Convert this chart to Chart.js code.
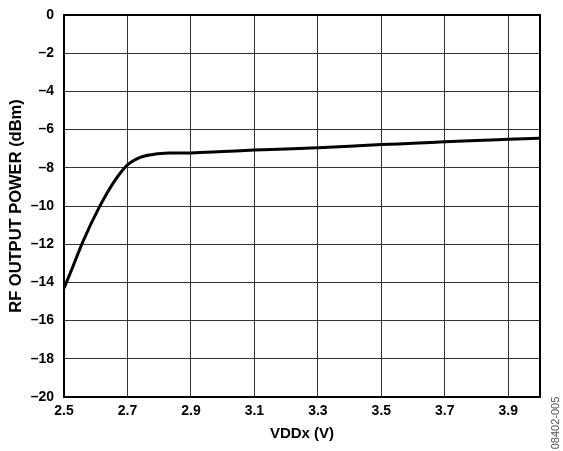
<!DOCTYPE html>
<html>
<head>
<meta charset="utf-8">
<script src="https://cdn.jsdelivr.net/npm/chart.js@4/dist/chart.umd.min.js"></script>
<style>
html,body{margin:0;padding:0;background:#fff;}
#wrap{width:563px;height:451px;position:relative;}
</style>
</head>
<body>
<div id="wrap"><canvas id="c" width="563" height="451"></canvas></div>
<script>
const vddx = [2.50, 2.52, 2.56, 2.61, 2.655, 2.70, 2.74, 2.78, 2.83, 2.90, 3.00, 3.10, 3.20, 3.30, 3.40, 3.50, 3.60, 3.70, 3.80, 3.90, 4.00];
const rfPower = [-14.3, -13.5, -11.85, -10.1, -8.8, -7.85, -7.45, -7.3, -7.22, -7.22, -7.15, -7.07, -7.02, -6.95, -6.87, -6.78, -6.72, -6.64, -6.57, -6.51, -6.45];
const xTicks = [2.5, 2.7, 2.9, 3.1, 3.3, 3.5, 3.7, 3.9];
const yTicks = [0, -2, -4, -6, -8, -10, -12, -14, -16, -18, -20];
const xTitle = 'VDDx (V)';
const yTitle = 'RF OUTPUT POWER (dBm)';
const noteText = '08402-005';

const FONT = "'Liberation Sans', Arial, sans-serif";

const framePlugin = {
  id: 'frame',
  afterDatasetsDraw(chart) {
    const {ctx, chartArea: a} = chart;
    ctx.save();
    ctx.strokeStyle = '#000';
    ctx.lineWidth = 2;
    ctx.strokeRect(a.left, a.top, a.right - a.left, a.bottom - a.top);
    ctx.restore();
  },
  afterDraw(chart) {
    const ctx = chart.ctx;
    ctx.save();
    ctx.translate(556, 423);
    ctx.rotate(-Math.PI / 2);
    ctx.font = "11px " + FONT;
    ctx.fillStyle = '#555';
    ctx.textAlign = 'center';
    ctx.textBaseline = 'middle';
    ctx.fillText(noteText, 0, 0);
    ctx.restore();
  }
};

new Chart(document.getElementById('c'), {
  type: 'line',
  data: {
    datasets: [{
      data: vddx.map((x, i) => ({x: x, y: rfPower[i]})),
      borderColor: '#000',
      borderWidth: 3,
      pointRadius: 0,
      cubicInterpolationMode: 'monotone',
      fill: false
    }]
  },
  options: {
    responsive: false,
    animation: false,
    devicePixelRatio: 1,
    layout: {padding: {left: 0, right: 23, top: 15, bottom: 0}},
    plugins: {legend: {display: false}, tooltip: {enabled: false}},
    scales: {
      x: {
        type: 'linear',
        min: 2.5,
        max: 4.0,
        afterBuildTicks(scale) { scale.ticks = xTicks.map(v => ({value: v})); },
        afterFit(scale) { scale.height = 54; },
        ticks: {
          autoSkip: false,
          maxRotation: 0,
          padding: 6,
          color: '#000',
          font: {family: FONT, size: 14, weight: 'bold'},
          callback: v => Number(v).toFixed(1)
        },
        grid: {color: '#333', lineWidth: 1, drawTicks: false},
        border: {display: false},
        title: {
          display: true,
          text: xTitle,
          color: '#000',
          font: {family: FONT, size: 15, weight: 'bold'},
          padding: {top: 0, bottom: 8}
        }
      },
      y: {
        type: 'linear',
        min: -20,
        max: 0,
        afterBuildTicks(scale) { scale.ticks = yTicks.map(v => ({value: v})); },
        afterFit(scale) { scale.width = 64; scale.paddingTop = 0; scale.paddingBottom = 0; },
        ticks: {
          autoSkip: false,
          padding: 10,
          color: '#000',
          font: {family: FONT, size: 14, weight: 'bold'},
          callback: v => v < 0 ? '\u2013' + Math.abs(v) : String(v)
        },
        grid: {color: '#333', lineWidth: 1, drawTicks: false},
        border: {display: false},
        title: {
          display: true,
          text: yTitle,
          color: '#000',
          font: {family: FONT, size: 16.5, weight: 'bold'},
          padding: {top: 7, bottom: 0}
        }
      }
    }
  },
  plugins: [framePlugin]
});
</script>
</body>
</html>
